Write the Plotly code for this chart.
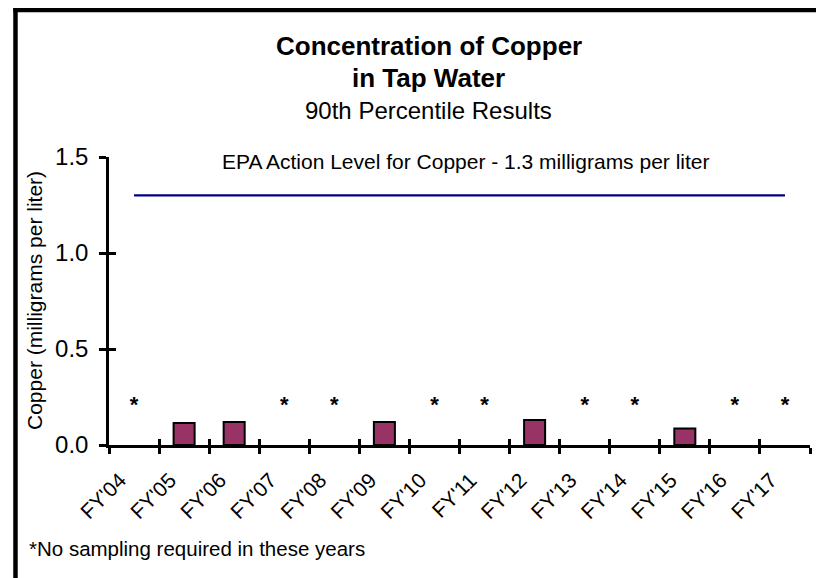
import plotly.graph_objects as go

# ---- data ----
categories = ["FY'04", "FY'05", "FY'06", "FY'07", "FY'08", "FY'09", "FY'10",
              "FY'11", "FY'12", "FY'13", "FY'14", "FY'15", "FY'16", "FY'17"]
copper_90th = [None, 0.115, 0.12, None, None, 0.12, None,
               None, 0.13, None, None, 0.086, None, None]
no_sampling_years = ["FY'04", "FY'07", "FY'08", "FY'10", "FY'11",
                     "FY'13", "FY'14", "FY'16", "FY'17"]
asterisk_level = 0.2
epa_action_level = 1.3
y_ticks = [0.0, 0.5, 1.0, 1.5]
y_tick_labels = ["0.0", "0.5", "1.0", "1.5"]

FONT = "Liberation Sans, Arial, Helvetica, sans-serif"

fig = go.Figure()

fig.add_trace(go.Bar(
    x=categories, y=copper_90th,
    marker=dict(color="#993366", line=dict(color="black", width=2)),
    width=0.42, showlegend=False, hoverinfo="x+y",
))

fig.add_trace(go.Scatter(
    x=[categories[0], categories[-1]], y=[epa_action_level, epa_action_level],
    mode="lines", line=dict(color="#000080", width=2.2),
    showlegend=False, hoverinfo="skip",
))

fig.add_trace(go.Scatter(
    x=no_sampling_years, y=[asterisk_level] * len(no_sampling_years),
    mode="text", text=["<b>*</b>"] * len(no_sampling_years),
    textposition="middle center",
    textfont=dict(family=FONT, size=22, color="black"),
    showlegend=False, hoverinfo="skip",
))

# dummy trace for the overlaying axes (inner half of the crossing ticks)
fig.add_trace(go.Scatter(
    x=categories, y=[0] * len(categories), xaxis="x2", yaxis="y2",
    mode="markers", marker=dict(opacity=0, size=1),
    showlegend=False, hoverinfo="skip",
))

axis_font = dict(family=FONT, size=24, color="black")

fig.update_layout(
    width=816, height=570,
    margin=dict(l=101, r=14, t=149, b=133),
    paper_bgcolor="white", plot_bgcolor="white",
    font=dict(family=FONT, color="black"),
    xaxis=dict(
        type="category", categoryorder="array", categoryarray=categories,
        range=[-0.5, 13.5], tickson="boundaries",
        ticks="outside", ticklen=6, tickwidth=2.5, tickcolor="black",
        showline=True, linecolor="black", linewidth=2.5,
        showgrid=False, zeroline=False,
        tickangle=-45, tickfont=dict(family=FONT, size=21, color="black"),
        ticklabelshift=-14, ticklabelstandoff=12,
    ),
    yaxis=dict(
        range=[0, 1.5], tickvals=y_ticks, ticktext=y_tick_labels,
        ticks="outside", ticklen=7, tickwidth=2.5, tickcolor="black",
        showline=True, linecolor="black", linewidth=2.5,
        showgrid=False, zeroline=False,
        tickfont=axis_font, ticklabelstandoff=6,
    ),
    xaxis2=dict(
        type="category", categoryorder="array", categoryarray=categories,
        range=[-0.5, 13.5], tickson="boundaries", overlaying="x", anchor="y2",
        ticks="inside", ticklen=6, tickwidth=2.5, tickcolor="black",
        showticklabels=False, showline=False, showgrid=False, zeroline=False,
    ),
    yaxis2=dict(
        range=[0, 1.5], tickvals=y_ticks, overlaying="y", anchor="x2",
        ticks="inside", ticklen=7, tickwidth=2.5, tickcolor="black",
        showticklabels=False, showline=False, showgrid=False, zeroline=False,
    ),
)

# chart frame: only its top and left edges fall inside the picture
frame_x0, frame_y1 = -0.1334, 1.5104
fig.add_shape(type="line", xref="paper", yref="paper",
              x0=frame_x0 - 0.003, x1=1.3, y0=frame_y1, y1=frame_y1,
              line=dict(color="black", width=4.5), layer="above")
fig.add_shape(type="line", xref="paper", yref="paper",
              x0=frame_x0, x1=frame_x0, y0=-0.8, y1=frame_y1 + 0.008,
              line=dict(color="black", width=4.5), layer="above")

ann = []
ann.append(dict(text="<b>Concentration of Copper</b>", x=0.4558, y=(445 - 46) / 288,
                font=dict(family=FONT, size=26, color="black")))
ann.append(dict(text="<b>in Tap Water</b>", x=0.4558, y=(445 - 78) / 288,
                font=dict(family=FONT, size=26, color="black")))
ann.append(dict(text="90th Percentile Results", x=0.4558, y=(445 - 110) / 288,
                font=dict(family=FONT, size=24, color="black")))
for a in ann:
    a.update(xref="paper", yref="paper", xanchor="center", yanchor="middle",
             showarrow=False)
    fig.add_annotation(**a)

fig.add_annotation(text="EPA Action Level for Copper - 1.3 milligrams per liter",
                   xref="paper", yref="y", x=0.508, y=epa_action_level,
                   xanchor="center", yanchor="bottom", yshift=20, showarrow=False,
                   font=dict(family=FONT, size=21, color="black"))

fig.add_annotation(text="Copper (milligrams per liter)", textangle=-90,
                   xref="paper", yref="paper", x=(34 - 109) / 701, y=0.5,
                   xanchor="center", yanchor="middle", showarrow=False,
                   font=dict(family=FONT, size=21, color="black"))

fig.add_annotation(text="*No sampling required in these years",
                   xref="paper", yref="paper", x=(27 - 109) / 701, y=(445 - 548) / 288,
                   xanchor="left", yanchor="middle", showarrow=False,
                   font=dict(family=FONT, size=20.5, color="black"))

fig.write_html("out.html")
